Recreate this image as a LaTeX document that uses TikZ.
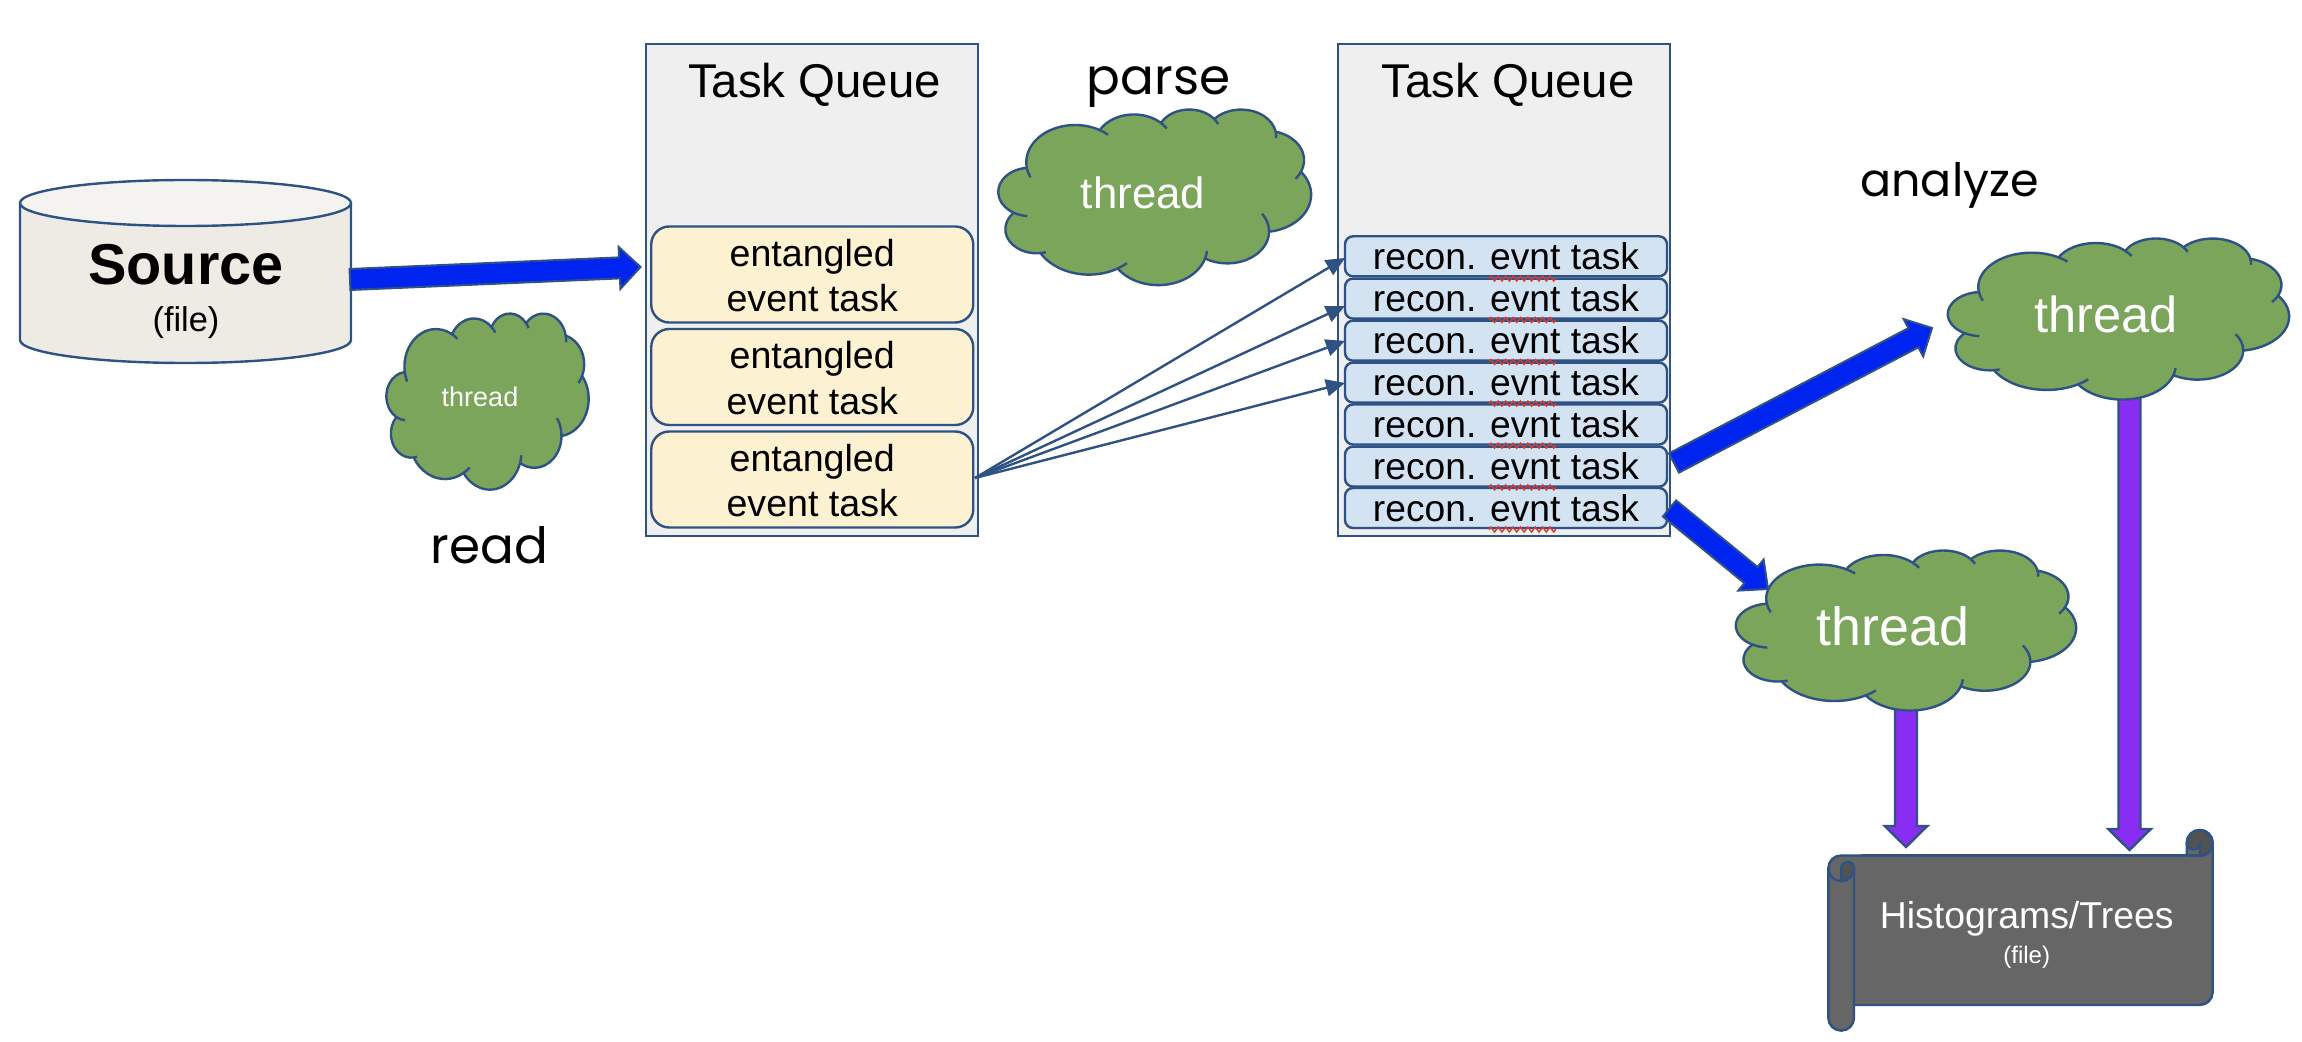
\documentclass[tikz,border=0pt]{standalone}
\usepackage{fontspec}
\setmainfont{Liberation Sans}
\newfontfamily\handfont{Poppins}
\usetikzlibrary{calc,arrows.meta,decorations.pathmorphing}
\definecolor{edge}{HTML}{2F5285}
\definecolor{cloudgreen}{HTML}{7AA55B}
\definecolor{fatblue}{HTML}{0024F0}
\definecolor{fatpurple}{HTML}{8A2DF2}
\definecolor{queuegray}{HTML}{EFEFEF}
\definecolor{taskyellow}{HTML}{FCF1D0}
\definecolor{taskblue}{HTML}{D3E3F2}
\definecolor{scrollgray}{HTML}{666666}
\definecolor{scrolldark}{HTML}{525252}
\definecolor{drumside}{HTML}{EDEBE4}
\definecolor{drumtop}{HTML}{F4F3EF}
\definecolor{squigred}{HTML}{D93A2B}
\newcommand\fs[1]{\fontsize{#1}{#1}\selectfont}
% PowerPoint cloud arcs: name, rx, ry, start, sweep (unit box 432)
\newcommand\defarc[5]{%
  \pgfmathsetmacro\tmpA{atan2(#2*sin(#4),#3*cos(#4))}%
  \pgfmathsetmacro\tmpB{atan2(#2*sin(#4+#5),#3*cos(#4+#5))}%
  \pgfmathsetmacro\tmpC{\tmpB<\tmpA ? \tmpB+360 : \tmpB}%
  \expandafter\xdef\csname clts#1\endcsname{\tmpA}%
  \expandafter\xdef\csname clte#1\endcsname{\tmpC}%
  \expandafter\xdef\csname clrx#1\endcsname{#2}%
  \expandafter\xdef\csname clry#1\endcsname{#3}%
  \expandafter\xdef\csname clarc#1\endcsname{coordinate (j#1) arc[start angle=\tmpA, end angle=\tmpC, x radius=#2, y radius=#3] coordinate (k#1)}%
}
\defarc{A}{67.53}{91.90}{-190.49}{123.78}
\defarc{B}{53.33}{72.67}{-144.10}{89.95}
\defarc{C}{43.65}{59.45}{-145.81}{99.72}
\defarc{D}{48.57}{65.95}{-130.99}{117.24}
\defarc{E}{53.33}{72.73}{-78.71}{109.03}
\defarc{F}{67.75}{92.20}{-46.27}{130.27}
\defarc{G}{57.85}{78.67}{0.625}{114.03}
\defarc{H}{67.52}{92.15}{22.45}{115.17}
\defarc{I}{77.20}{105.43}{66.24}{75.71}
\defarc{J}{43.60}{59.18}{-274.94}{146.74}
\defarc{K}{43.45}{59.45}{-246.83}{152.52}
\newcommand\extback[2]{\draw[cloudline] (j#1) arc[start angle=\csname clts#1\endcsname, delta angle=-#2, x radius=\csname clrx#1\endcsname, y radius=\csname clry#1\endcsname];}
\newcommand\extfwd[2]{\draw[cloudline] (k#1) arc[start angle=\csname clte#1\endcsname, delta angle=#2, x radius=\csname clrx#1\endcsname, y radius=\csname clry#1\endcsname];}
% cloud: name x0 y0 x1 y1
\newcommand\pptcloud[5]{%
  \pgfmathsetmacro\cw{(#4-#2)/432*0.5}%
  \pgfmathsetmacro\ch{(#5-#3)/432*0.5}%
  \begin{scope}[shift={(#2,#3)},x=\cw pt,y=-\ch pt]
    \draw[cloudshape] (39,143.7) \clarcA \clarcB \clarcC \clarcD \clarcE \clarcF \clarcG \clarcH \clarcI \clarcJ \clarcK -- cycle;
    \extback{A}{16}\extfwd{A}{12}\extfwd{B}{14}\extfwd{C}{14}\extfwd{D}{14}\extfwd{E}{16}
    \extback{G}{34}\extback{H}{12}\extback{I}{12}\extback{J}{10}\extback{K}{26}
  \end{scope}%
}
% fat arrow: from, to, shaft half, head half, head length, style
\newcommand\fatarrow[6]{%
  \coordinate (fa-c) at ($(#2)!#5!(#1)$);
  \draw[#6] ($(#1)!#3!90:(#2)$) -- ($(fa-c)!#3!90:(#2)$) -- ($(fa-c)!#4!90:(#2)$) -- (#2)
     -- ($(fa-c)!#4!-90:(#2)$) -- ($(fa-c)!#3!-90:(#2)$) -- ($(#1)!#3!-90:(#2)$) -- cycle;
}
\tikzset{
  cloudshape/.style={draw=edge,fill=cloudgreen,line width=1.2pt},
  cloudline/.style={draw=edge,line width=1.2pt},
  queuebox/.style={draw=edge,fill=queuegray,line width=1.2pt,minimum width=166pt,minimum height=246pt,inner sep=0pt},
  entbox/.style={draw=edge,fill=taskyellow,line width=1.2pt,rounded corners=9pt,minimum width=161pt,minimum height=48pt,inner sep=0pt,align=center,font=\fs{18.8}},
  recbox/.style={draw=edge,fill=taskblue,line width=1.2pt,rounded corners=4pt,minimum width=161pt,minimum height=20pt,inner sep=0pt,font=\fs{18.6}},
  title/.style={anchor=base,inner sep=0pt,font=\fs{23.7}},
  threadtext/.style={anchor=base,inner sep=0pt,text=white},
  hand/.style={anchor=base,inner sep=0pt},
  bluearrow/.style={draw=edge,fill=fatblue,line width=1pt,line join=miter},
  purplearrow/.style={draw=edge,fill=fatpurple,line width=1.2pt,line join=miter},
  thinarrow/.style={draw=edge,line width=1.2pt,-{Triangle[length=9.5pt,width=8.5pt]}},
  squiggle/.style={draw=squigred,line width=0.7pt,decorate,decoration={zigzag,amplitude=1.25pt,segment length=3.7pt}},
  scrollstyle/.style={draw=edge,line width=1.2pt,line join=round},
}
\newcommand\entlines{\rule{0pt}{14.8pt}entangled\\[4pt]event task}
\begin{document}
\begin{tikzpicture}[x=0.5pt,y=-0.5pt]
\useasboundingbox (0,0) rectangle (2302,1042);
% Source drum
\draw[scrollstyle,fill=drumside] (20,203) -- (20,340) arc[start angle=180,end angle=0,x radius=165.5,y radius=23] -- (351,203) -- cycle;
\draw[scrollstyle,fill=drumtop] (185.5,203) ellipse [x radius=165.5,y radius=23];
\node[anchor=base,inner sep=0pt,font=\bfseries\fs{28.8}] (source) at (186,284.5) {Source};
\node[anchor=base,inner sep=0pt,font=\fs{17.2}] (sourcefile) at (186,331.5) {(file)};
% queues
\node[queuebox] (q1) at (812.25,290) {};
\node[queuebox] (q2) at (1504,290) {};
\node[title] (q1t) at (814.5,98) {Task Queue};
\node[title] (q2t) at (1508,98) {Task Queue};
% entangled tasks
\node[entbox] (e1) at (812.25,274.5) {\entlines};
\node[entbox] (e2) at (812.25,377) {\entlines};
\node[entbox] (e3) at (812.25,479.5) {\entlines};
% reconstructed tasks
\foreach \i/\y in {1/256.3,2/298.6,3/340.7,4/382.6,5/424.5,6/466.6,7/508}{
  \node[recbox] (r\i) at (1506,\y) {recon. evnt task};
}
\foreach \y in {278.5,320,362,403.6,445.7,487.4,529.5}{
  \coordinate (sqa) at (1489,\y);
  \coordinate (sqb) at (1556,\y);
  \draw[squiggle] (sqa) -- (sqb);
}
% purple arrows under clouds
\coordinate (pa1) at (1906,700);
\coordinate (pa2) at (1906,847);
\coordinate (pb1) at (2129.5,390);
\coordinate (pb2) at (2129.5,850);
\fatarrow{pa1}{pa2}{5.5pt}{10.65pt}{10.5pt}{purplearrow}
\fatarrow{pb1}{pb2}{5.5pt}{10.65pt}{10.5pt}{purplearrow}
% clouds
\pptcloud{c1}{386.5}{313}{588.6}{489}
\pptcloud{c2}{998.5}{109}{1311}{284.5}
\pptcloud{c3}{1948}{238}{2289}{399}
\pptcloud{c4}{1736}{550}{2076}{710}
\node[threadtext,font=\fs{13.5}] (t1) at (480,407) {thread};
\node[threadtext,font=\fs{21.9}] (t2) at (1143,208.5) {thread};
\node[threadtext,font=\fs{25.3}] (t3) at (2106,333) {thread};
\node[threadtext,font=\fs{26.9}] (t4) at (1893,645.5) {thread};
% blue arrows
\coordinate (ba1) at (350,279.5);
\coordinate (ba2) at (640.5,267);
\coordinate (bb1) at (1674,463);
\coordinate (bb2) at (1932,328);
\coordinate (bc1) at (1669.5,508.5);
\coordinate (bc2) at (1768,589);
\fatarrow{ba1}{ba2}{5.25pt}{10.5pt}{10.5pt}{bluearrow}
\fatarrow{bb1}{bb2}{5.4pt}{10.5pt}{10.5pt}{bluearrow}
\fatarrow{bc1}{bc2}{5.2pt}{10pt}{11pt}{bluearrow}
% fan of thin arrows
\coordinate (fan) at (975,478);
\coordinate (f1) at (1345,258);
\coordinate (f2) at (1345,306);
\coordinate (f3) at (1345,341);
\coordinate (f4) at (1345,383);
\draw[thinarrow] (fan) -- (f1);
\draw[thinarrow] (fan) -- (f2);
\draw[thinarrow] (fan) -- (f3);
\draw[thinarrow] (fan) -- (f4);
% scroll
\draw[scrollstyle,fill=scrollgray]
  (1828.3,868.3) arc[start angle=180,end angle=270,radius=12.85] -- (2186.7,855.4) -- (2186.7,843)
  arc[start angle=180,end angle=360,radius=13] -- (2212.7,992) arc[start angle=0,end angle=90,radius=13]
  -- (1854,1005) -- (1854,1017.8) arc[start angle=0,end angle=180,radius=12.85] -- cycle;
\draw[scrollstyle,fill=scrolldark]
  (1841.2,881.1) -- (1841.2,868.3) arc[start angle=180,end angle=360,radius=6.4] arc[start angle=0,end angle=90,radius=12.85];
\draw[scrollstyle] (1828.3,868.3) arc[start angle=180,end angle=0,radius=12.85] -- (1854,1005);
\draw[scrollstyle,fill=scrolldark]
  (2186.7,843) arc[start angle=180,end angle=360,radius=13] arc[start angle=0,end angle=90,radius=13]
  -- (2199.7,843) arc[start angle=0,end angle=180,radius=6.5] -- cycle;
\draw[scrollstyle] (2186.7,855.4) -- (2199.7,855.4);
\node[anchor=base,inner sep=0pt,text=white,font=\fs{18.7}] (hist) at (2026.7,928) {Histograms/Trees};
\node[anchor=base,inner sep=0pt,text=white,font=\fs{12}] (histfile) at (2026.7,963) {(file)};
% handwritten labels
\node[hand,font=\handfont\fs{25}] (read) at (489.5,564) {read};
\node[hand,font=\handfont\fs{25}] (parse) at (1158.5,95) {parse};
\node[hand,font=\handfont\fs{23}] (analyze) at (1949.5,197) {analyze};
\end{tikzpicture}
\end{document}
